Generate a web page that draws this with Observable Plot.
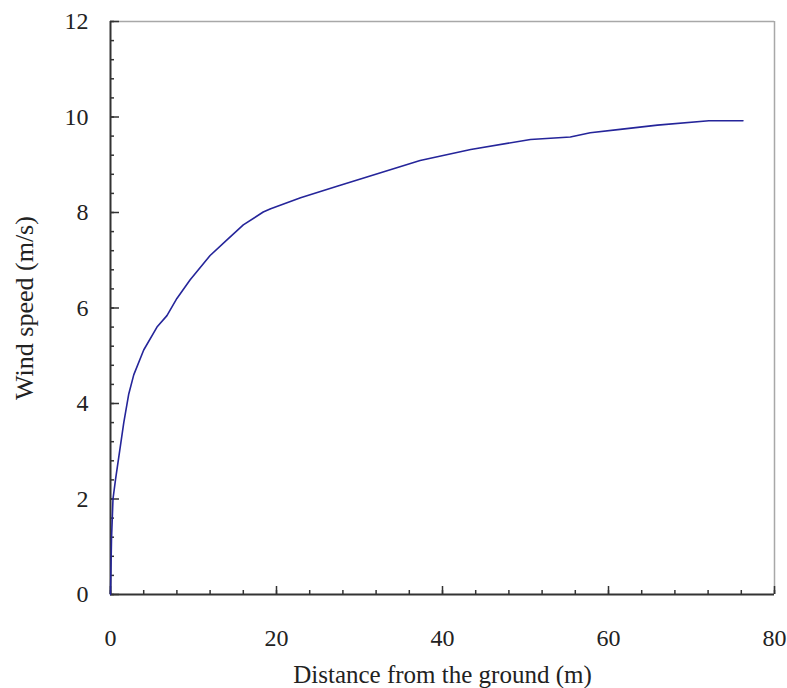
<!DOCTYPE html>
<html>
<head>
<meta charset="utf-8">
<script src="https://cdn.jsdelivr.net/npm/d3@7"></script>
<script src="https://cdn.jsdelivr.net/npm/@observablehq/plot@0.6"></script>
<style>
  html, body { margin: 0; padding: 0; background: #fff; }
  svg { font-family: "Liberation Serif", "DejaVu Serif", serif; }
</style>
</head>
<body>
<div id="chart"></div>
<script>
// Distance from the ground (m)
const distance = [0, 0.12, 0.3, 0.6, 1.6, 2.2, 2.8, 4.0, 5.6, 6.8, 8.0, 9.6, 12.0, 14.0, 16.0, 18.4, 19.3, 22.9, 27.3, 37.3, 43.4, 50.6, 55.4, 57.8, 61.4, 65.9, 72.1, 76.2];
// Wind speed (m/s)
const windSpeed = [0, 1.15, 2.0, 2.4, 3.6, 4.2, 4.6, 5.12, 5.6, 5.84, 6.2, 6.59, 7.1, 7.42, 7.74, 8.01, 8.08, 8.31, 8.55, 9.09, 9.32, 9.53, 9.58, 9.67, 9.74, 9.83, 9.92, 9.92];

const xMajorTicks = [0, 20, 40, 60, 80];
const xMinorTicks = [0, 4, 8, 12, 16, 20, 24, 28, 32, 36, 40, 44, 48, 52, 56, 60, 64, 68, 72, 76, 80];
const yMajorTicks = [0, 2, 4, 6, 8, 10, 12];
const yMinorTicks = [0, 0.4, 0.8, 1.2, 1.6, 2, 2.4, 2.8, 3.2, 3.6, 4, 4.4, 4.8, 5.2, 5.6, 6, 6.4, 6.8, 7.2, 7.6, 8, 8.4, 8.8, 9.2, 9.6, 10, 10.4, 10.8, 11.2, 11.6, 12];

const xLabel = "Distance from the ground (m)";
const yLabel = "Wind speed (m/s)";

const data = distance.map((d, i) => ({distance: d, speed: windSpeed[i]}));

const chart = Plot.plot({
  width: 787,
  height: 688,
  marginLeft: 110,
  marginRight: 13,
  marginTop: 21,
  marginBottom: 94,
  style: {fontFamily: "'Liberation Serif', serif", fontSize: "24px", background: "#fff", color: "#222"},
  x: {domain: [0, 80], label: null},
  y: {domain: [0, 12], label: null},
  marks: [
    // frame: light top/right, dark left/bottom
    Plot.ruleY([12], {stroke: "#a8a8a8", strokeWidth: 1.5}),
    Plot.ruleX([80], {stroke: "#a8a8a8", strokeWidth: 1.5}),
    // minor and major inward ticks
    Plot.axisX(xMinorTicks, {tickSize: -4, text: null, label: null, stroke: "#333", strokeWidth: 1.5}),
    Plot.axisX(xMajorTicks, {tickSize: -8, text: null, label: null, stroke: "#333", strokeWidth: 1.5}),
    Plot.axisY(yMinorTicks, {tickSize: -4, text: null, label: null, stroke: "#333", strokeWidth: 1.5}),
    Plot.axisY(yMajorTicks, {tickSize: -9, text: null, label: null, stroke: "#333", strokeWidth: 1.5}),
    // tick labels and titles
    Plot.axisX(xMajorTicks, {tickSize: 0, tickPadding: 34, fontSize: 24, fill: "#222", label: null}),
    Plot.axisY(yMajorTicks, {tickSize: 0, tickPadding: 22, fontSize: 24, fill: "#222", label: null}),
    Plot.axisX({ticks: [], tickSize: 0, fontSize: 25, fill: "#222",
      label: xLabel, labelAnchor: "center", labelOffset: 88, labelArrow: "none"}),
    Plot.axisY({ticks: [], tickSize: 0, fontSize: 26, fill: "#222",
      label: yLabel, labelAnchor: "center", labelOffset: 96, labelArrow: "none"}),
    Plot.ruleX([0], {stroke: "#333", strokeWidth: 2}),
    Plot.ruleY([0], {stroke: "#333", strokeWidth: 2}),
    // curve
    Plot.line(data, {x: "distance", y: "speed", stroke: "#25259a", strokeWidth: 1.6})
  ]
});
document.getElementById("chart").appendChild(chart);
</script>
</body>
</html>
